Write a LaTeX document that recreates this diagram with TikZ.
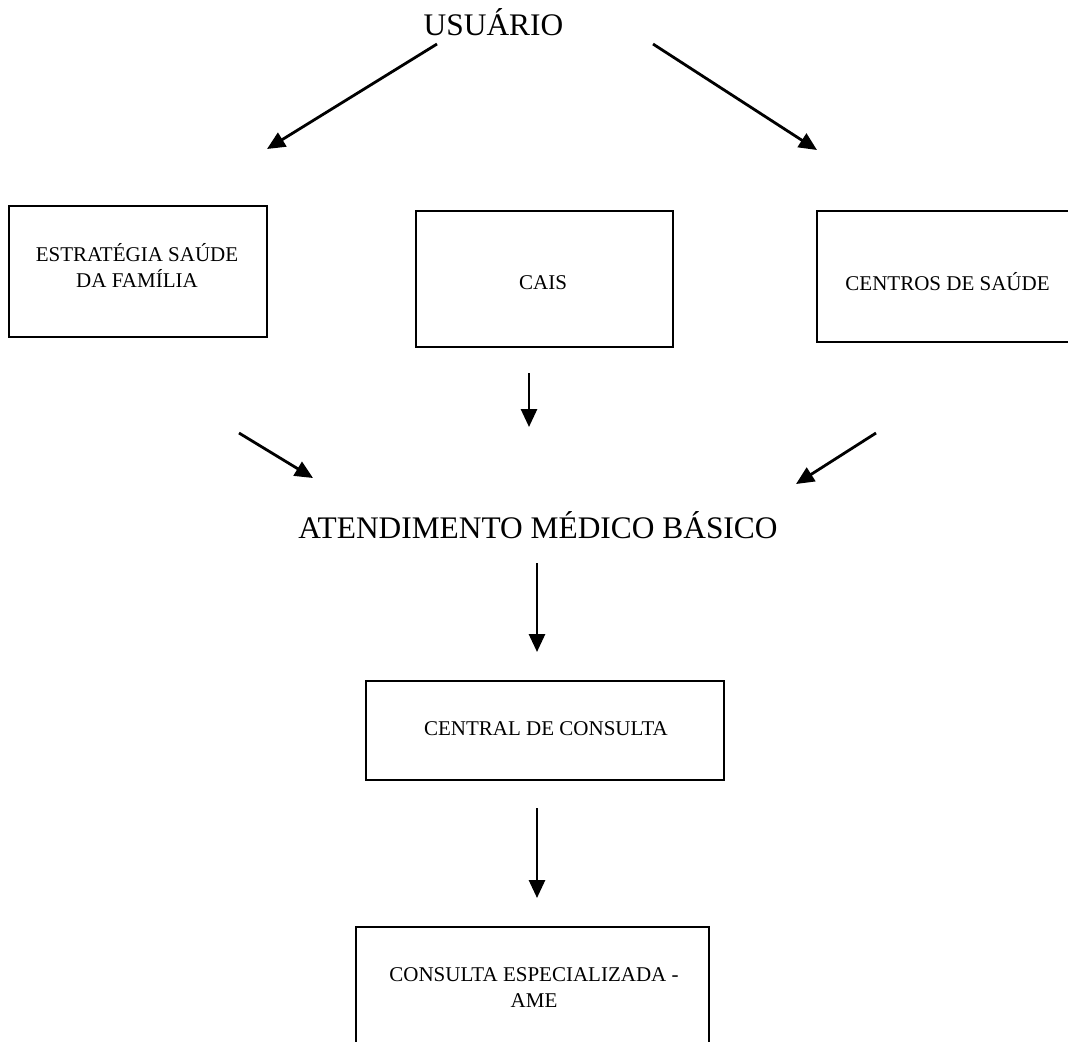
\documentclass[tikz,border=0pt]{standalone}
\usepackage{fontspec}
\setmainfont{Liberation Serif}
\usetikzlibrary{arrows.meta}

\begin{document}
\begin{tikzpicture}[
    x=0.5pt, y=-0.5pt,
    caixa/.style={
        draw,
        line width=1.2pt,
        inner sep=0pt
    },
    rotulo/.style={font=\fontsize{10.5}{13}\selectfont, align=center, anchor=base},
    titulo/.style={font=\fontsize{15.7}{19}\selectfont, anchor=base},
    seta/.style={-{Triangle[length=9pt,width=8pt]}, line width=1.4pt}
]
\useasboundingbox (0,0) rectangle (1068,1041);
\clip (0,0) rectangle (1068,1041);

% Topo: usuario
\node[titulo] (usu) at (493.5,35) {USUÁRIO};

% === UNIDADES DE ENTRADA ===
\node[caixa, minimum width=129pt, minimum height=65.5pt] (esf) at (138,271.5) {};
\node[rotulo] (esftxt) at (137,287) {ESTRATÉGIA SAÚDE\\DA FAMÍLIA};

\node[caixa, minimum width=128.5pt, minimum height=68pt] (cais) at (544.5,279) {};
\node[rotulo] (caistxt) at (543,289) {CAIS};

\node[caixa, minimum width=129pt, minimum height=65.5pt] (cs) at (946,276.5) {};
\node[rotulo] (cstxt) at (947.5,290) {CENTROS DE SAÚDE};

% Atendimento basico
\node[titulo] (atd) at (538,538) {ATENDIMENTO MÉDICO BÁSICO};

% === ENCAMINHAMENTO ===
\node[caixa, minimum width=179pt, minimum height=49.5pt] (central) at (545,730.5) {};
\node[rotulo] (centraltxt) at (546,735) {CENTRAL DE CONSULTA};

\node[caixa, minimum width=176.5pt, minimum height=66pt] (ame) at (532.5,993) {};
\node[rotulo] (ametxt) at (534,1007) {CONSULTA ESPECIALIZADA -\\AME};

% Pontas das setas
\coordinate (usu-e) at (437,44);
\coordinate (usu-d) at (653,44);
\coordinate (esf-in) at (267,149);
\coordinate (cs-in) at (817,150);
\coordinate (esf-out) at (239,433);
\coordinate (cais-out) at (529,373);
\coordinate (cs-out) at (876,433);
\coordinate (atd-e) at (313,478);
\coordinate (atd-c) at (529,427);
\coordinate (atd-d) at (796,484);
\coordinate (atd-out) at (537,563);
\coordinate (central-in) at (537,652);
\coordinate (central-out) at (537,808);
\coordinate (ame-in) at (537,898);

% Setas
\draw[seta] (usu-e) -- (esf-in);
\draw[seta] (usu-d) -- (cs-in);
\draw[seta] (esf-out) -- (atd-e);
\draw[seta] (cais-out) -- (atd-c);
\draw[seta] (cs-out) -- (atd-d);
\draw[seta] (atd-out) -- (central-in);
\draw[seta] (central-out) -- (ame-in);

\end{tikzpicture}
\end{document}
